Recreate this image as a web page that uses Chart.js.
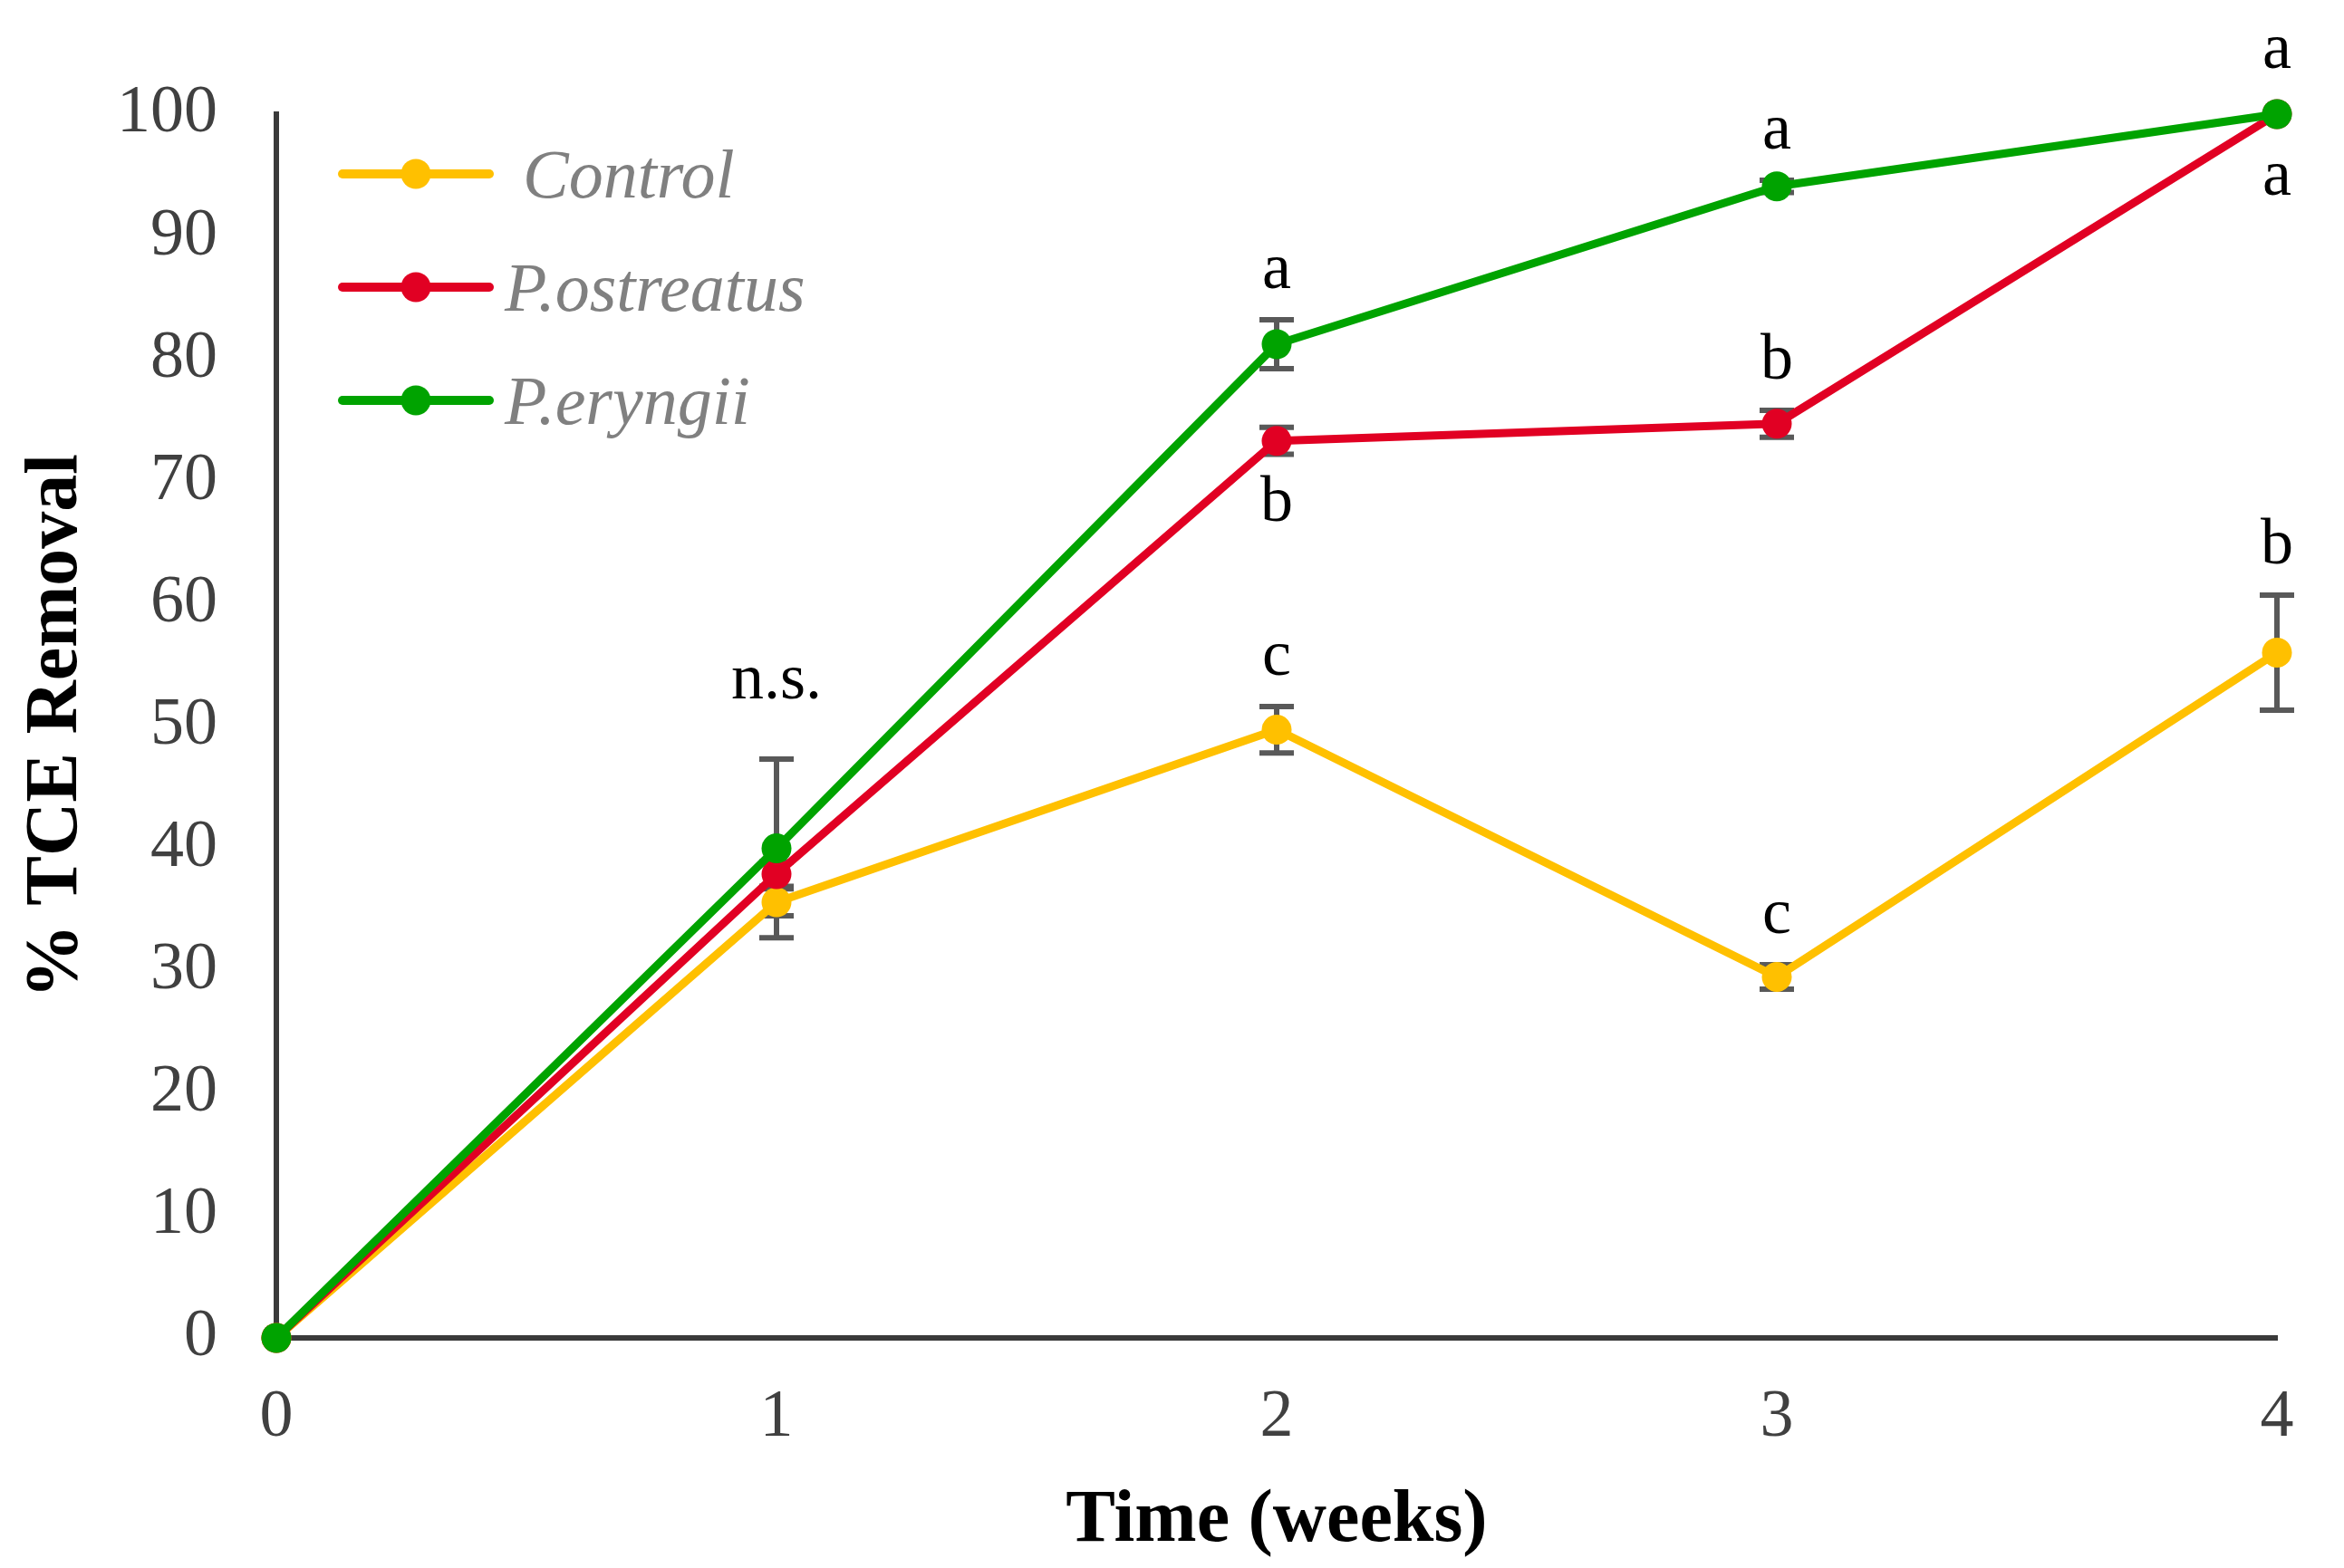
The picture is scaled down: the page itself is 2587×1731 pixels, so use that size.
<!DOCTYPE html>
<html><head><meta charset="utf-8">
<script src="https://cdn.jsdelivr.net/npm/chart.js@4.4.0/dist/chart.umd.min.js"></script>
<style>html,body{margin:0;padding:0;background:#fff;overflow:hidden}canvas{display:block}</style>
</head><body>
<canvas id="c" width="2587" height="1731" style="width:2587px;height:1731px"></canvas>
<script>
// ---- data ----
const weeks = [0, 1, 2, 3, 4];
const xTickLabels = ['0', '1', '2', '3', '4'];
const yTickLabels = ['0', '10', '20', '30', '40', '50', '60', '70', '80', '90', '100'];
const seriesNames = ['Control', 'P.ostreatus', 'P.eryngii'];

const controlMean = [0, 35.6, 49.7, 29.5, 56.0];
const controlErr  = [0, 1.1, 1.9, 1.0, 4.7];
const ostreatusMean = [0, 37.9, 73.3, 74.7, 100];
const ostreatusErr  = [0, 1.0, 1.1, 1.1, 0];
const eryngiiMean = [0, 40.0, 81.2, 94.1, 100];
const eryngiiErr  = [0, 7.3, 2.0, 0.5, 0];

const controlLetters   = ['', '', 'c', 'c', 'b'];
const ostreatusLetters = ['', '', 'b', 'b', 'a'];
const eryngiiLetters   = ['', 'n.s.', 'a', 'a', 'a'];
const ostreatusLetterSide = ['', '', 'below', 'above', 'below'];
const controlLetterSide   = ['', '', 'above', 'above', 'above'];
const eryngiiLetterSide   = ['', 'above', 'above', 'above', 'above'];

// ---- styles ----
const COLORS = ['#FFC000', '#E10023', '#00A300'];
const POINT_R = 16.5;
const FONT = "'Liberation Serif', 'Times New Roman', serif";

const means = [controlMean, ostreatusMean, eryngiiMean];
const errs = [controlErr, ostreatusErr, eryngiiErr];
const letters = [controlLetters, ostreatusLetters, eryngiiLetters];
const sides = [controlLetterSide, ostreatusLetterSide, eryngiiLetterSide];

const errorBarPlugin = {
  id: 'errorBars',
  beforeDatasetsDraw(chart) {
    const {ctx, scales: {x, y}} = chart;
    ctx.save();
    ctx.strokeStyle = '#595959';
    ctx.lineWidth = 6;
    ctx.lineCap = 'butt';
    means.forEach((m, i) => {
      m.forEach((v, j) => {
        const e = errs[i][j];
        if (!e) return;
        const px = x.getPixelForValue(weeks[j]);
        const yt = y.getPixelForValue(v + e);
        const yb = y.getPixelForValue(v - e);
        ctx.beginPath();
        ctx.moveTo(px, yt); ctx.lineTo(px, yb);
        ctx.moveTo(px - 19, yt); ctx.lineTo(px + 19, yt);
        ctx.moveTo(px - 19, yb); ctx.lineTo(px + 19, yb);
        ctx.stroke();
      });
    });
    ctx.restore();
  }
};

const letterPlugin = {
  id: 'letters',
  afterDatasetsDraw(chart) {
    const {ctx, scales: {x, y}} = chart;
    ctx.save();
    ctx.fillStyle = '#000';
    ctx.font = "72px " + FONT;
    ctx.textAlign = 'center';
    ctx.textBaseline = 'alphabetic';
    letters.forEach((arr, i) => {
      arr.forEach((t, j) => {
        if (!t) return;
        const v = means[i][j], e = errs[i][j];
        const px = x.getPixelForValue(weeks[j]);
        const pp = y.getPixelForValue(v);
        if (sides[i][j] === 'below') {
          const yb = Math.max(y.getPixelForValue(v - e), pp + POINT_R);
          ctx.fillText(t, px, yb + 72);
        } else {
          const yt = e ? y.getPixelForValue(v + e) : pp - POINT_R;
          ctx.fillText(t, px, yt - (t.length > 1 ? 67 : 35));
        }
      });
    });
    ctx.restore();
  }
};

const legendPlugin = {
  id: 'customLegend',
  afterDraw(chart) {
    const {ctx} = chart;
    const rows = [192, 317, 442];
    ctx.save();
    seriesNames.forEach((name, i) => {
      const yy = rows[i];
      ctx.strokeStyle = COLORS[i];
      ctx.lineWidth = 10;
      ctx.lineCap = 'round';
      ctx.beginPath();
      ctx.moveTo(378, yy); ctx.lineTo(540, yy);
      ctx.stroke();
      ctx.fillStyle = COLORS[i];
      ctx.beginPath();
      ctx.arc(459, yy, POINT_R, 0, Math.PI * 2);
      ctx.fill();
      ctx.fillStyle = '#808080';
      ctx.font = "italic 76px " + FONT;
      ctx.textAlign = 'left';
      ctx.textBaseline = 'alphabetic';
      ctx.fillText(name, name === 'Control' ? 577 : 557, yy + 26);
    });
    ctx.restore();
  }
};

const datasets = seriesNames.map((name, i) => ({
  label: name,
  data: weeks.map((w, j) => ({x: w, y: means[i][j]})),
  borderColor: COLORS[i],
  backgroundColor: COLORS[i],
  pointBackgroundColor: COLORS[i],
  pointBorderWidth: 0,
  pointRadius: POINT_R,
  pointHoverRadius: POINT_R,
  borderWidth: 9,
  borderJoinStyle: 'round',
  tension: 0,
  fill: false,
  clip: false,
  order: 2 - i
}));

new Chart(document.getElementById('c'), {
  type: 'line',
  data: {datasets},
  plugins: [errorBarPlugin, letterPlugin, legendPlugin],
  options: {
    responsive: false,
    animation: false,
    devicePixelRatio: 1,
    events: [],
    layout: {padding: {left: 0, top: 126, right: 74, bottom: 0}},
    plugins: {legend: {display: false}, tooltip: {enabled: false}},
    scales: {
      x: {
        type: 'linear', min: 0, max: 4,
        grid: {display: false, drawTicks: false},
        border: {display: true, color: '#3a3a3a', width: 6},
        ticks: {
          stepSize: 1, padding: 44, color: '#404040',
          font: {family: FONT, size: 74},
          callback: (v) => xTickLabels[weeks.indexOf(v)]
        },
        title: {
          display: true, text: 'Time (weeks)', color: '#000',
          font: {family: FONT, size: 82, weight: 'bold', lineHeight: 1},
          padding: {top: 10, bottom: 10}
        },
        afterFit(s) { s.height = 1731 - 1477; }
      },
      y: {
        min: 0, max: 100,
        grid: {display: false, drawTicks: false},
        border: {display: true, color: '#3a3a3a', width: 6},
        ticks: {
          stepSize: 10, padding: 65, color: '#404040',
          font: {family: FONT, size: 74},
          callback: (v) => yTickLabels[Math.round(v / 10)]
        },
        title: {
          display: true, text: '% TCE Removal', color: '#000',
          font: {family: FONT, size: 82, weight: 'bold', lineHeight: 1},
          padding: {top: 22, bottom: 10}
        },
        afterFit(s) { s.width = 305; }
      }
    }
  }
});
</script>
</body></html>
